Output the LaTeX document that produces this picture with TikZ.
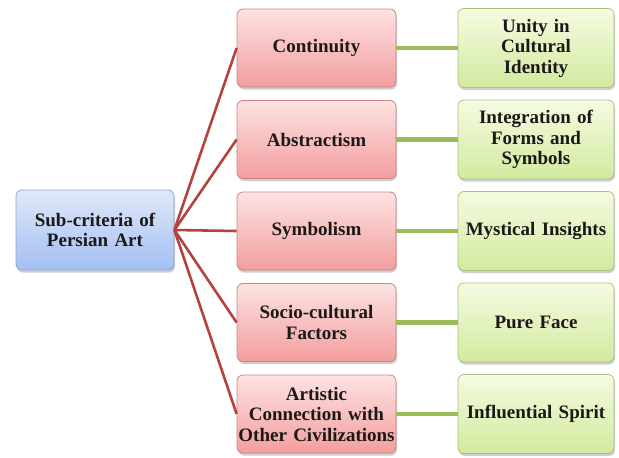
\documentclass[tikz,border=0pt]{standalone}
\usepackage{fontspec}
\setmainfont{Liberation Serif}
\usetikzlibrary{shadows}
\definecolor{rootTop}{HTML}{E0E8F9}
\definecolor{rootBot}{HTML}{A3BFF3}
\definecolor{rootBorder}{HTML}{8FA6CC}
\definecolor{midTop}{HTML}{FDE2E2}
\definecolor{midBot}{HTML}{F39E9E}
\definecolor{midBorder}{HTML}{C98585}
\definecolor{rgtTop}{HTML}{F5FBE2}
\definecolor{rgtBot}{HTML}{D2EA9E}
\definecolor{rgtBorder}{HTML}{A9C27A}
\definecolor{redLine}{HTML}{B4423F}
\definecolor{greenLine}{HTML}{9BBB59}
\definecolor{txt}{HTML}{1C1818}
\begin{document}
\begin{tikzpicture}[x=1pt,y=-1pt,
  basebox/.style={rounded corners=6pt, minimum height=78pt, align=center,
    font=\bfseries\fontsize{19}{20.5}\selectfont, text=txt, inner xsep=1pt, inner ysep=1pt,
    line width=0.8pt,
    drop shadow={shadow xshift=1pt, shadow yshift=-2.5pt, opacity=0.35, fill=black!55}},
  rootbox/.style={basebox, top color=rootTop, bottom color=rootBot, draw=rootBorder, text width=156pt, minimum height=80pt},
  midbox/.style={basebox, top color=midTop, bottom color=midBot, draw=midBorder, text width=157pt},
  rgtbox/.style={basebox, top color=rgtTop, bottom color=rgtBot, draw=rgtBorder, text width=154pt, minimum height=79pt},
  redlink/.style={draw=redLine, line width=2.6pt},
  greenlink/.style={draw=greenLine, line width=4.5pt}]
\useasboundingbox (0,0) rectangle (619,458);

\node[rootbox] (root) at (95,230) {Sub-criteria of\\Persian Art};

\node[midbox] (m1) at (316.5,48) {Continuity};
\node[midbox] (m2) at (316.5,139.5) {Abstractism};
\node[midbox] (m3) at (316.5,231) {Symbolism};
\node[midbox] (m4) at (316.5,322.5) {Socio-cultural\\Factors};
\node[midbox] (m5) at (316.5,414) {Artistic\\Connection with\\\makebox[157pt]{Other Civilizations}};

\node[rgtbox] (r1) at (536,48) {Unity in\\Cultural\\Identity};
\node[rgtbox] (r2) at (536,139.5) {Integration of\\Forms and\\Symbols};
\node[rgtbox] (r3) at (536,231) {Mystical Insights};
\node[rgtbox] (r4) at (536,322.5) {Pure Face};
\node[rgtbox] (r5) at (536,414) {Influential Spirit};

\foreach \i in {1,...,5} {
  \draw[redlink] (root.east) -- (m\i.west);
  \draw[greenlink] (m\i.east) -- (r\i.west);
}
\end{tikzpicture}
\end{document}
